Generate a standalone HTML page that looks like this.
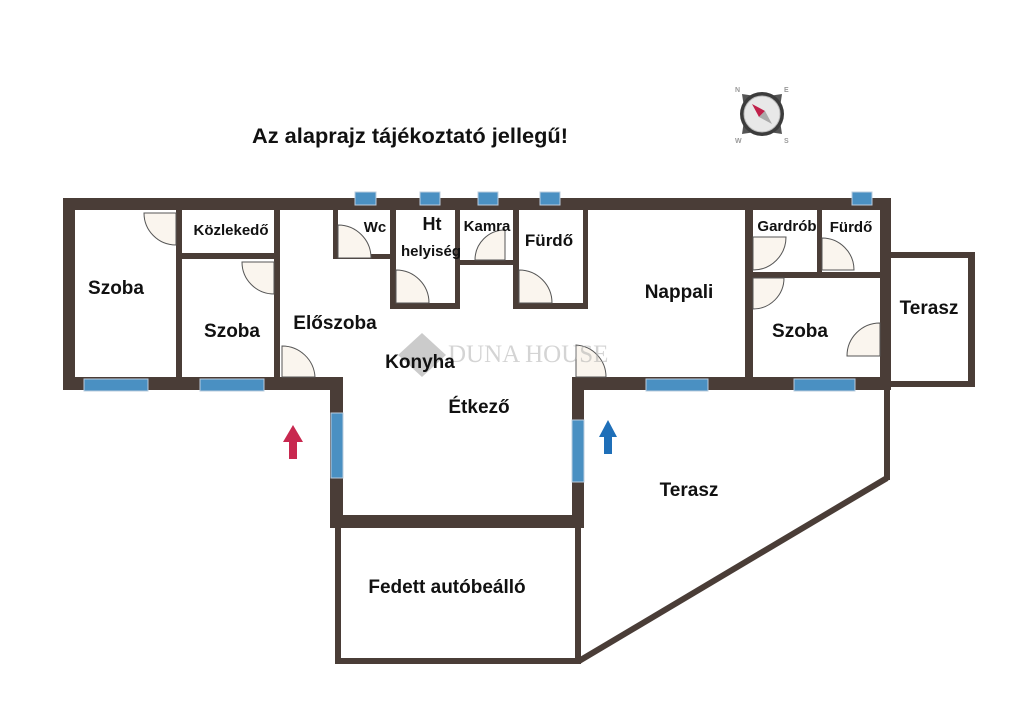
<!DOCTYPE html>
<html><head><meta charset="utf-8"><style>
html,body{margin:0;padding:0;background:#fff;}
svg{display:block;font-family:"Liberation Sans",Arial,sans-serif;font-weight:bold;}
</style></head><body>
<svg width="1024" height="707" viewBox="0 0 1024 707" xmlns="http://www.w3.org/2000/svg">
<rect width="1024" height="707" fill="#fff"/>
<text x="410" y="143" font-size="21" text-anchor="middle" fill="#111" textLength="316" lengthAdjust="spacingAndGlyphs">Az alaprajz tájékoztató jellegű!</text>
<!-- compass -->
<g transform="translate(762,114)">
<polygon points="-20,-20 0,-17 20,-20 17,0 20,20 0,17 -20,20 -17,0" fill="#555"/>
<circle r="22" fill="#3c3c3c"/><circle r="18" fill="#e8e8e8" stroke="#bbb" stroke-width="1"/>
<polygon points="-10,-10 3,-3 -3,3" fill="#c0204a"/>
<polygon points="10,10 3,-3 -3,3" fill="#aaa"/>
<text x="-27" y="-22" font-size="7" fill="#999">N</text><text x="22" y="-22" font-size="7" fill="#999">E</text>
<text x="-27" y="29" font-size="7" fill="#999">W</text><text x="22" y="29" font-size="7" fill="#999">S</text>
</g>
<g fill="#4a3d37">
<rect x="63" y="198" width="828" height="12"/>
<rect x="63" y="198" width="12" height="192"/>
<rect x="63" y="377" width="280" height="13"/>
<rect x="880" y="198" width="11" height="192"/>
<rect x="572" y="377" width="319" height="13"/>
<rect x="176" y="210" width="6" height="168"/>
<rect x="182" y="253" width="93" height="6"/>
<rect x="274" y="210" width="6" height="168"/>
<rect x="333" y="210" width="5" height="49"/>
<rect x="333" y="254" width="60" height="5"/>
<rect x="390" y="210" width="6" height="99"/>
<rect x="390" y="303" width="70" height="6"/>
<rect x="455" y="210" width="5" height="99"/>
<rect x="455" y="260" width="62" height="5"/>
<rect x="513" y="210" width="6" height="99"/>
<rect x="513" y="303" width="75" height="6"/>
<rect x="583" y="210" width="5" height="99"/>
<rect x="745" y="210" width="8" height="168"/>
<rect x="817" y="210" width="5" height="66"/>
<rect x="745" y="272" width="135" height="6"/>
<rect x="330" y="377" width="13" height="151"/>
<rect x="572" y="377" width="12" height="151"/>
<rect x="330" y="515" width="254" height="13"/>
<rect x="335" y="528" width="6" height="136"/>
<rect x="575" y="528" width="6" height="136"/>
<rect x="335" y="658" width="246" height="6"/>
<rect x="884" y="390" width="6" height="90"/>
<rect x="891" y="252" width="84" height="6"/>
<rect x="968" y="252" width="7" height="135"/>
<rect x="884" y="381" width="91" height="6"/>
</g>
<line x1="887" y1="478" x2="579" y2="661" stroke="#4a3d37" stroke-width="6"/>
<g fill="#4a90c2" stroke="#bcd" stroke-width="1">
<rect x="355" y="192" width="21" height="13"/><rect x="420" y="192" width="20" height="13"/>
<rect x="478" y="192" width="20" height="13"/><rect x="540" y="192" width="20" height="13"/>
<rect x="852" y="192" width="20" height="13"/>
<rect x="84" y="379" width="64" height="12"/><rect x="200" y="379" width="64" height="12"/>
<rect x="646" y="379" width="62" height="12"/><rect x="794" y="379" width="61" height="12"/>
<rect x="331" y="413" width="12" height="65"/><rect x="572" y="420" width="12" height="62"/>
</g>
<g fill="#faf5ee" stroke="#555" stroke-width="1">
<path d="M176 213 L144 213 A32 32 0 0 0 176 245 Z"/>
<path d="M274 262 L242 262 A32 32 0 0 0 274 294 Z"/>
<path d="M338 258 L338 225 A33 33 0 0 1 371 258 Z"/>
<path d="M396 303 L396 270 A33 33 0 0 1 429 303 Z"/>
<path d="M505 260 L505 230 A30 30 0 0 0 475 260 Z"/>
<path d="M519 303 L519 270 A33 33 0 0 1 552 303 Z"/>
<path d="M753 237 L786 237 A33 33 0 0 1 753 270 Z"/>
<path d="M822 270 L822 238 A32 32 0 0 1 854 270 Z"/>
<path d="M753 278 L784 278 A31 31 0 0 1 753 309 Z"/>
<path d="M880 323 L880 356 L847 356 A33 33 0 0 1 880 323 Z"/>
<path d="M282 377 L282 346 A33 33 0 0 1 315 377 Z"/>
<path d="M576 377 L576 345 A32 32 0 0 1 606 377 Z"/>
</g>
<g opacity="0.5">
<polygon points="422,333 446,355 422,377 398,355" fill="#999"/>
<text x="448" y="362" font-size="25" font-weight="normal" font-family="Liberation Serif,serif" fill="#aaa">DUNA HOUSE</text>
</g>
<g font-size="19" fill="#111" text-anchor="middle">
<text x="116" y="294">Szoba</text>
<text x="232" y="337">Szoba</text>
<text x="335" y="329">Előszoba</text>
<text x="420" y="368">Konyha</text>
<text x="479" y="413">Étkező</text>
<text x="679" y="298">Nappali</text>
<text x="800" y="337">Szoba</text>
<text x="929" y="314">Terasz</text>
<text x="689" y="496">Terasz</text>
<text x="447" y="593">Fedett autóbeálló</text>
<text x="432" y="230" font-size="18">Ht</text>
</g>
<g font-size="15" fill="#111" text-anchor="middle">
<text x="231" y="235" font-size="15">Közlekedő</text>
<text x="375" y="232">Wc</text>
<text x="431" y="256">helyiség</text>
<text x="487" y="231">Kamra</text>
<text x="549" y="246" font-size="17">Fürdő</text>
<text x="787" y="231">Gardrób</text>
<text x="851" y="232">Fürdő</text>
</g>
<polygon points="293,425 303,442 297,442 297,459 289,459 289,442 283,442" fill="#c8284f"/>
<polygon points="608,420 617,437 612,437 612,454 604,454 604,437 599,437" fill="#1f6fb8"/>
</svg>
</body></html>
